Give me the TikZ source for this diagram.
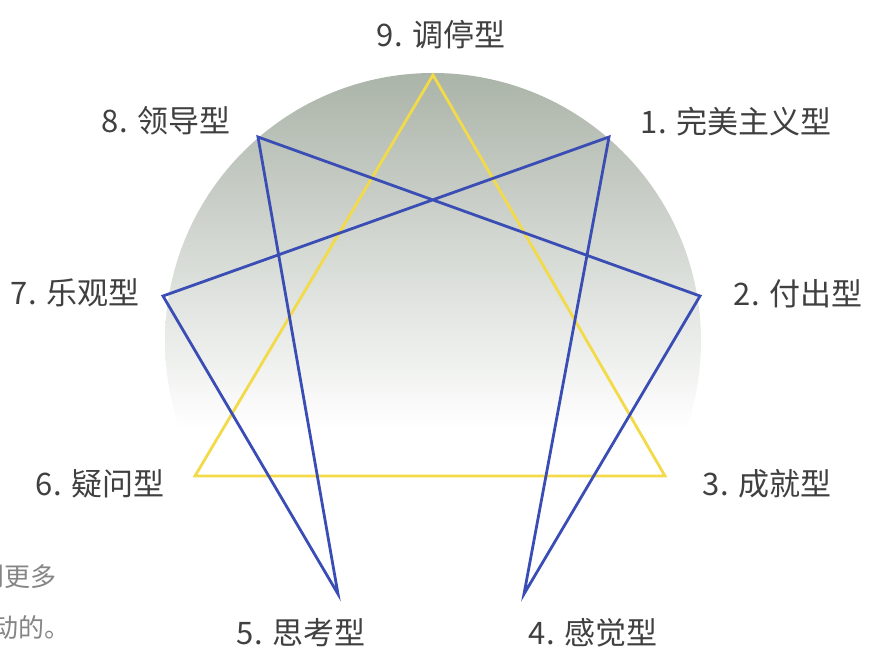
\documentclass[tikz,border=0pt]{standalone}
\usepackage{fontspec}
\newfontfamily\cjk{Noto Sans CJK SC}
\definecolor{hexblue}{HTML}{3A4DB5}
\definecolor{triyellow}{HTML}{F3DA48}
\definecolor{disk}{HTML}{ABB4A9}
\definecolor{diskmid}{HTML}{DDE2DE}
\definecolor{labelgray}{HTML}{404040}
\definecolor{notegray}{HTML}{858585}
\tikzset{
  typelabel/.style={font=\cjk\fontsize{31}{33}\selectfont, text=labelgray, inner sep=0pt},
  notetext/.style={font=\cjk\fontsize{26}{28}\selectfont, text=notegray, inner sep=0pt, anchor=west},
  hexline/.style={draw=hexblue, line width=2.8pt, line join=miter},
  triline/.style={draw=triyellow, line width=2.8pt, line join=miter}
}
\begin{document}
\begin{tikzpicture}[x=1pt,y=-1pt]
\useasboundingbox (0,0) rectangle (870,649);
% shaded disk
\begin{scope}
  \clip (433,341) circle (268);
  \shade[top color=disk, middle color=diskmid, bottom color=white] (160,73) rectangle (710,430);
\end{scope}
% enneagram points
\coordinate (p9) at (433,75);
\coordinate (p1) at (609,137);
\coordinate (p2) at (700,296);
\coordinate (p3) at (665,476);
\coordinate (p4) at (524,594);
\coordinate (p5) at (338,594);
\coordinate (p6) at (195,476);
\coordinate (p7) at (163,296);
\coordinate (p8) at (258,137);
% triangle 9-3-6
\draw[triline] (p9) -- (p3) -- (p6) -- cycle;
% hexad 1-4-2-8-5-7-1
\draw[hexline] (p1) -- (p4) -- (p2) -- (p8) -- (p5) -- (p7) -- cycle;
% labels
\node[typelabel] (l9) at (441,35) {9. 调停型};
\node[typelabel] (l8) at (166,121) {8. 领导型};
\node[typelabel] (l1) at (736,122) {1. 完美主义型};
\node[typelabel] (l7) at (75,293) {7. 乐观型};
\node[typelabel] (l2) at (798,294) {2. 付出型};
\node[typelabel] (l6) at (100,484) {6. 疑问型};
\node[typelabel] (l3) at (767,484) {3. 成就型};
\node[typelabel] (l5) at (301,633) {5. 思考型};
\node[typelabel] (l4) at (593,633) {4. 感觉型};
% cut-off note text at left edge
\node[notetext] (n1) at (-22,577) {到更多};
\node[notetext] (n2) at (-8,628) {动的。};
\end{tikzpicture}
\end{document}
